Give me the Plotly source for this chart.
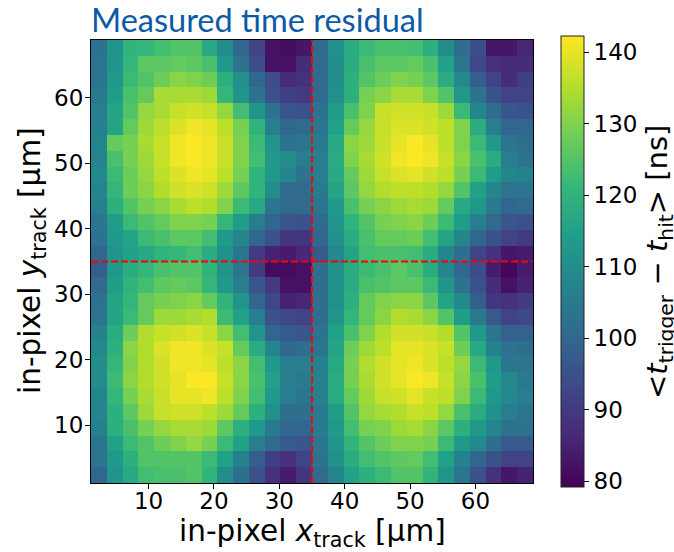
import plotly.graph_objects as go

x_edges_start, x_edges_end, n_bins = 1.2, 68.8, 28
pixel_boundary = 35
z_min, z_max = 79.16, 142.3
cbar_ticks = [80, 90, 100, 110, 120, 130, 140]
axis_ticks = [10, 20, 30, 40, 50, 60]

# rows listed from the top of the picture (largest y) downwards
residual_rows_top = [
 [103,112,120,121,123,125,125,117,110,100,92,82,81,83, 101,111,118,122,124,124,123,119,110,102,94,83,83,86],
 [104,112,121,126,126,127,126,124,113,103,94,82,82,87, 101,110,118,124,126,126,127,124,115,104,93,88,87,87],
 [104,113,122,125,128,131,130,128,119,111,100,94,87,88, 101,110,119,125,128,130,129,126,118,109,98,92,87,91],
 [105,114,124,127,134,134,134,133,121,112,103,95,91,90, 101,111,119,129,131,134,134,130,125,113,103,95,92,92],
 [106,116,125,132,134,137,138,137,132,123,112,103,96,95, 103,114,124,130,137,138,138,137,133,122,108,102,96,95],
 [107,116,127,133,136,139,141,140,136,129,120,106,100,101, 104,115,127,132,137,139,139,138,136,130,118,106,100,100],
 [108,127,129,134,137,141,142,141,137,130,122,112,103,104, 105,117,131,133,137,140,142,140,136,130,122,113,104,102],
 [108,124,129,133,137,141,142,141,137,130,123,113,110,106, 106,118,130,134,138,141,142,141,137,131,124,118,106,103],
 [109,122,128,132,136,139,141,140,136,129,120,113,108,103, 106,117,127,133,137,139,140,138,136,129,122,114,108,107],
 [108,121,128,131,135,138,139,138,133,126,120,110,101,101, 105,116,126,132,135,136,136,135,132,125,115,108,104,104],
 [107,119,125,129,131,134,136,135,130,122,117,104,101,101, 104,113,124,129,131,133,134,133,127,117,113,105,100,101],
 [104,114,122,125,127,130,130,129,121,114,106,100,96,95, 101,112,120,125,129,130,131,128,122,114,106,101,96,95],
 [103,113,116,122,124,126,126,123,113,108,100,95,89,89, 100,111,118,124,127,127,128,123,116,108,100,95,92,90],
 [100,112,115,117,120,121,123,118,111,104,90,85,84,86, 97,109,116,123,124,124,123,118,108,102,92,88,83,84],
]
residual_rows_bottom = [
 [98,113,118,121,124,125,125,120,112,104,90,81,81,82, 102,111,118,122,124,126,124,118,108,100,94,84,80,84],
 [101,114,120,123,126,127,126,121,113,106,96,90,82,82, 102,111,118,124,125,126,126,122,112,103,95,87,82,85],
 [103,116,121,127,129,130,131,127,120,112,100,93,85,86, 102,111,119,127,130,131,131,126,116,109,98,89,88,90],
 [104,116,122,127,133,133,134,135,122,115,106,95,93,92, 102,112,121,127,131,135,134,131,125,114,105,97,92,93],
 [107,118,128,135,137,138,139,137,131,123,112,100,97,96, 103,115,124,130,135,138,138,137,135,125,113,104,99,99],
 [109,119,131,135,139,141,141,139,137,127,118,108,100,102, 104,116,128,133,136,140,140,139,137,128,117,107,103,102],
 [110,121,130,135,138,141,141,140,136,131,123,113,106,106, 107,117,129,135,138,140,141,139,136,132,122,113,104,104],
 [110,122,131,135,138,140,142,142,137,131,124,115,106,105, 107,118,129,134,138,140,142,141,137,131,124,114,109,105],
 [108,121,129,134,137,140,140,141,136,130,123,113,106,104, 107,118,127,133,137,138,140,137,136,130,122,113,109,106],
 [108,119,126,133,137,138,138,136,133,127,119,111,102,102, 105,114,125,132,134,135,137,136,132,124,118,111,106,104],
 [107,119,124,129,132,134,134,133,126,119,113,105,100,100, 105,113,123,129,130,133,134,131,126,119,113,108,103,103],
 [104,115,122,125,128,130,132,129,122,115,106,101,97,96, 104,112,120,125,128,130,130,129,122,113,109,102,97,97],
 [104,113,119,125,125,125,125,122,115,107,98,91,88,92, 103,111,118,123,125,126,127,123,115,107,100,95,92,92],
 [100,112,117,123,124,124,125,120,110,102,95,88,84,89, 101,108,115,119,122,125,125,120,112,104,95,88,83,85],
]
z_rows = (residual_rows_top + residual_rows_bottom)[::-1]

step = (x_edges_end - x_edges_start) / n_bins
centers = [x_edges_start + step * (i + 0.5) for i in range(n_bins)]

fig = go.Figure(go.Heatmap(
    x=centers, y=centers, z=z_rows, colorscale="Viridis", zmin=z_min, zmax=z_max,
    colorbar=dict(
        x=470/442, xanchor="left", xpad=0, y=0.5, yanchor="middle", ypad=0,
        len=451/443, lenmode="fraction", thickness=22.5, thicknessmode="pixels",
        tickvals=cbar_ticks, ticks="outside", ticklen=5, tickwidth=1, tickcolor="#000",
        outlinecolor="#222", outlinewidth=1,
        tickfont=dict(family="DejaVu Sans", size=23, color="#000"),
    ),
))

fig.add_shape(type="line", x0=pixel_boundary, x1=pixel_boundary, yref="paper", y0=0, y1=1,
              line=dict(color="#ff0000", width=2, dash="7px,3px"))
fig.add_shape(type="line", y0=pixel_boundary, y1=pixel_boundary, xref="paper", x0=0, x1=1,
              line=dict(color="#ff0000", width=2, dash="7px,3px"))

axis_common = dict(tickvals=axis_ticks, ticks="outside", ticklen=5, tickwidth=1, tickcolor="#000",
                   showline=True, linecolor="#000", linewidth=1, mirror=True, showgrid=False, zeroline=False,
                   range=[x_edges_start, x_edges_end],
                   tickfont=dict(family="DejaVu Sans", size=23, color="#000"))
fig.update_xaxes(**axis_common, ticklabelstandoff=-8)
fig.update_yaxes(**axis_common, ticklabelstandoff=-3)

fig.add_annotation(text="in-pixel <i>x</i><sub>track</sub> [µm]", xref="paper", yref="paper",
                   x=(312-91)/442, y=-(533-483)/443, xanchor="center", yanchor="middle", showarrow=False,
                   font=dict(family="DejaVu Sans", size=29.5, color="#000"))
fig.add_annotation(text="in-pixel <i>y</i><sub>track</sub> [µm]", xref="paper", yref="paper",
                   x=-(91-32)/442, y=(483-261)/443, xanchor="center", yanchor="middle", textangle=-90, showarrow=False,
                   font=dict(family="DejaVu Sans", size=29.5, color="#000"))
fig.add_annotation(text="Measured time residual", xref="paper", yref="paper", x=0, y=1,
                   xanchor="left", yanchor="bottom", yshift=-1, xshift=-2, showarrow=False,
                   font=dict(family="Lato", size=32.5, color="#0b5aa8"))
fig.add_annotation(text="&lt;<i>t</i><sub>trigger</sub> − <i>t</i><sub>hit</sub>&gt; [ns]",
                   xref="paper", yref="paper", x=(659-91)/442, y=(483-262)/443, xanchor="center", yanchor="middle",
                   textangle=-90, showarrow=False,
                   font=dict(family="DejaVu Sans", size=29, color="#000"))

fig.update_layout(width=674, height=552, margin=dict(l=91, r=141, t=40, b=69, autoexpand=False),
                  paper_bgcolor="white", plot_bgcolor="white", showlegend=False)
fig.write_html("out.html", config={"displayModeBar": False}, post_script="document.body.style.margin='0';")
